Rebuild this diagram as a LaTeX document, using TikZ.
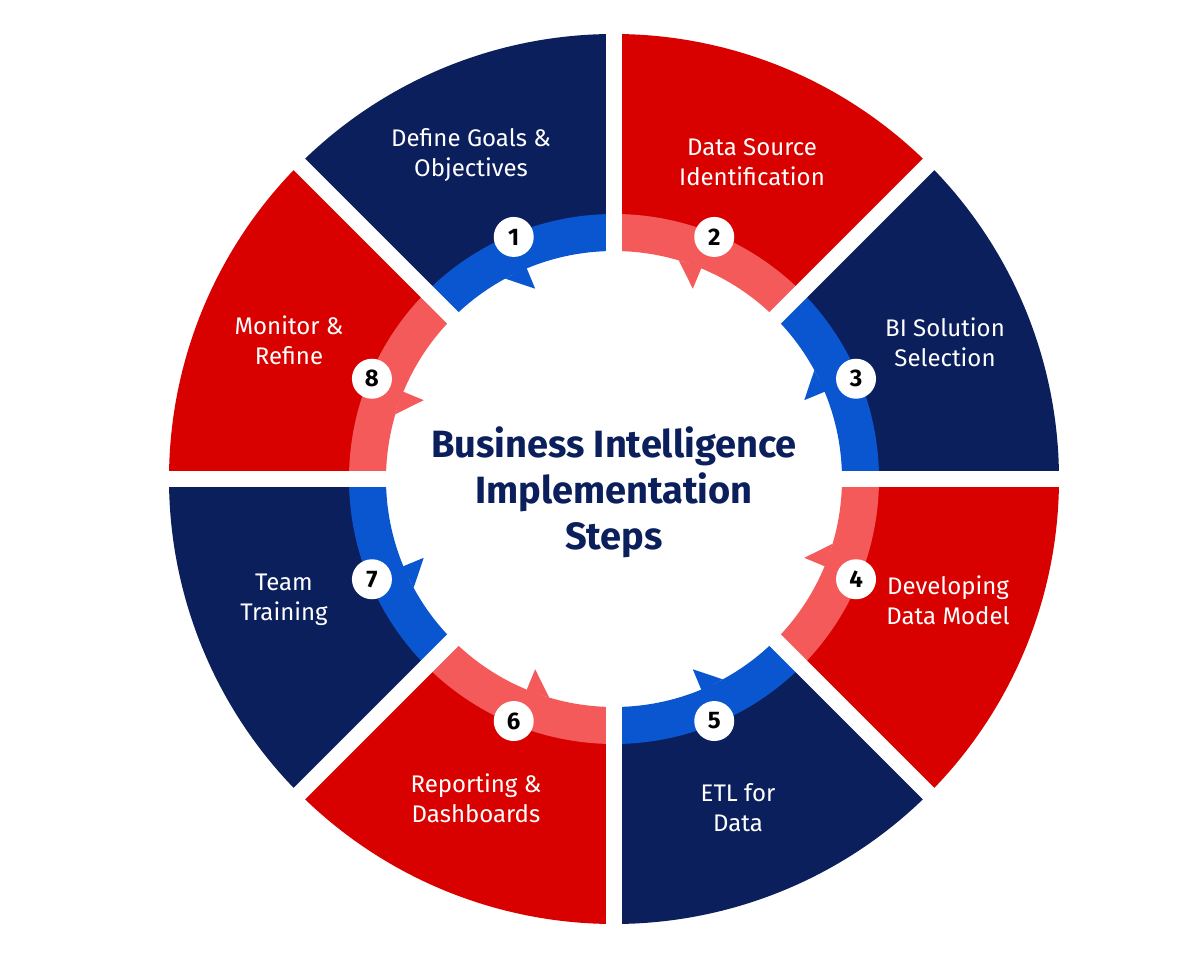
\documentclass[tikz,border=0pt]{standalone}
\usepackage{fontspec}
\setmainfont{Fira Sans}
\usetikzlibrary{positioning}
\definecolor{navy}{HTML}{0B1F5C}
\definecolor{bired}{HTML}{D90000}
\definecolor{ringblue}{HTML}{0A56D0}
\definecolor{ringpink}{HTML}{F55A5A}
\tikzset{
  sector label/.style = {text=white,align=center,font=\fontsize{24}{30}\selectfont},
  num node/.style = {circle,fill=white,minimum size=40pt,inner sep=0,font=\fontsize{24}{24}\selectfont\bfseries},
  title node/.style = {text=navy,align=center,font=\fontsize{38}{46}\selectfont\bfseries},
  gap line/.style = {white,line width=16pt}
}
\begin{document}
\begin{tikzpicture}[x=1pt,y=1pt]
\useasboundingbox (-614,-479) rectangle (586,479);
% sectors
\foreach \a/\sc in {90/navy,45/bired,0/navy,-45/bired,-90/navy,-135/bired,-180/navy,-225/bired}
  \fill[\sc] (0,0) -- (\a:445) arc[start angle=\a,end angle=\a+45,radius=445] -- cycle;
\fill[white] (0,0) circle[radius=229];
% ring with notches
\foreach \a/\rc in {90/ringblue,45/ringpink,0/ringblue,-45/ringpink,-90/ringblue,-135/ringpink,-180/ringblue,-225/ringpink}{
  \pgfmathsetmacro{\m}{\a+22.5}
  \fill[\rc] (\a:228) -- (\a:265) arc[start angle=\a,end angle=\a+45,radius=265]
     -- (\a+45:228) arc[start angle=\a+45,end angle=\a,radius=228] -- cycle;
  \fill[\rc] (\m:229) -- (\m:206) -- (\m+6:228) -- cycle;
}
% gaps between the sectors
\foreach \g in {0,45,...,315}
  \draw[gap line] (\g:215) -- (\g:450);
\foreach \a/\n in {90/1,45/2,0/3,-45/4,-90/5,-135/6,-180/7,-225/8}
  \node[num node] (n\n) at (\a+22.5:262) {\n};
%%%%%%%%%%%%%%%%%%%%%%%%%%%%%%%%%%
\node[title node] (title) at (0,-13) {Business Intelligence\\Implementation\\Steps};
\node[sector label] (s1) at (-143,324) {Define Goals \&\\Objectives};
\node[sector label] (s2) at (138,317) {Data Source\\Identification};
\node[sector label] (s3) at (331,137) {BI Solution\\Selection};
\node[sector label] (s4) at (334,-121) {Developing\\Data Model};
\node[sector label] (s5) at (124,-329) {ETL for\\Data};
\node[sector label] (s6) at (-138,-319) {Reporting \&\\Dashboards};
\node[sector label] (s7) at (-330,-121) {Team\\Training};
\node[sector label] (s8) at (-325,139) {Monitor \&\\Refine};
\end{tikzpicture}
\end{document}
